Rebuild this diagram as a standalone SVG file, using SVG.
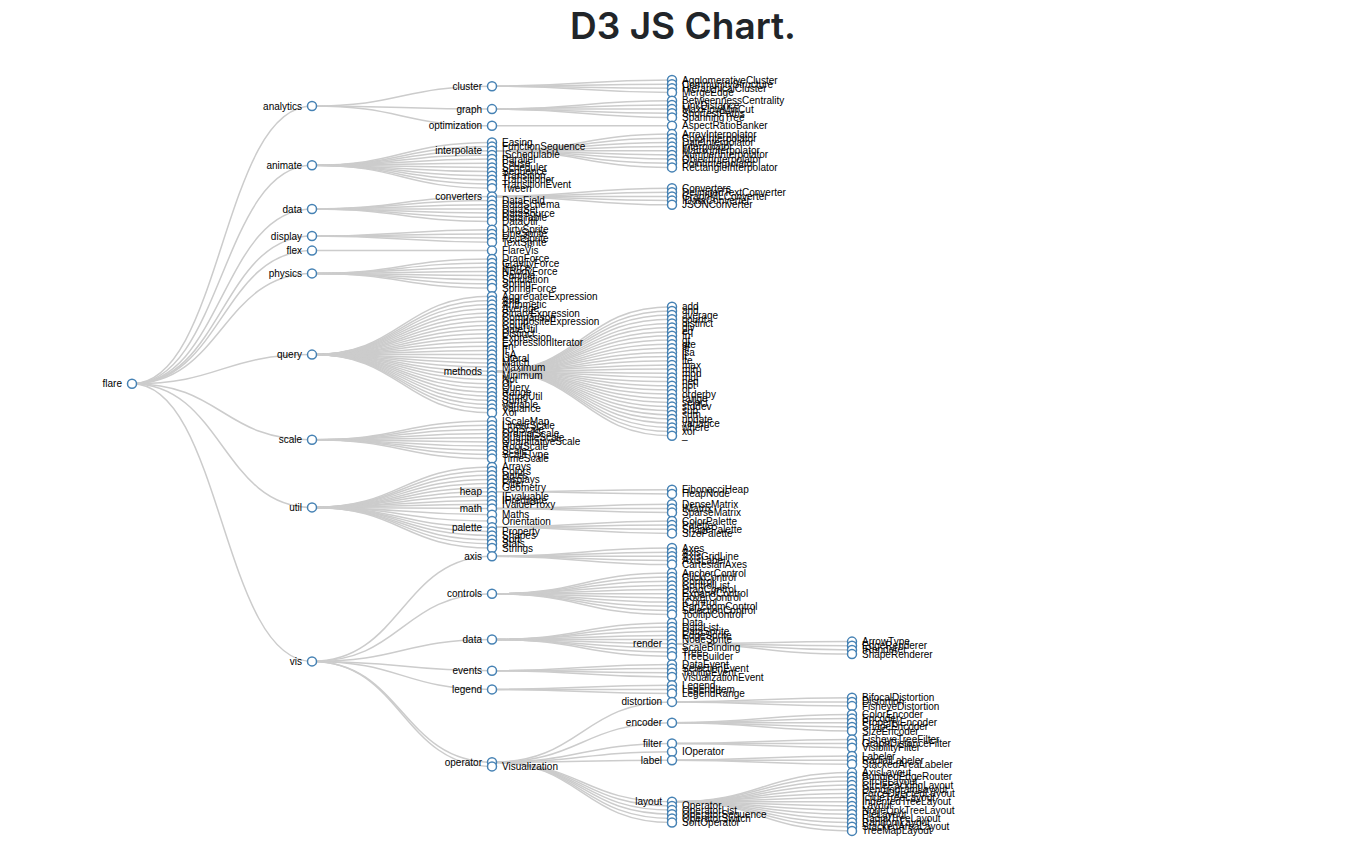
<svg xmlns="http://www.w3.org/2000/svg" width="1366" height="856" viewBox="0 0 1366 856">
<style>
.links path{fill:none;stroke:#ccc;stroke-width:1.5}
.node circle{fill:#fff;stroke:#4682b4;stroke-width:1.5}
.node text{font-family:"Liberation Sans",Arial,sans-serif;font-size:10px;fill:#000;dominant-baseline:central}
.node.p text{text-anchor:end}
.title{font-family:Inter,"Liberation Sans",Arial,sans-serif;font-weight:600;font-size:37px;fill:#212529;text-anchor:middle}
</style>
<rect width="1366" height="856" fill="#fff"/>
<text class="title" x="683" y="39">D3 JS Chart.</text>
<g id="connectors" class="links">
<path d="M132,383.7C222,383.7 222,106 312,106"/>
<path d="M132,383.7C222,383.7 222,165.3 312,165.3"/>
<path d="M132,383.7C222,383.7 222,209 312,209"/>
<path d="M132,383.7C222,383.7 222,236 312,236"/>
<path d="M132,383.7C222,383.7 222,250.6 312,250.6"/>
<path d="M132,383.7C222,383.7 222,273.4 312,273.4"/>
<path d="M132,383.7C222,383.7 222,354.6 312,354.6"/>
<path d="M132,383.7C222,383.7 222,439.8 312,439.8"/>
<path d="M132,383.7C222,383.7 222,507.4 312,507.4"/>
<path d="M132,383.7C222,383.7 222,661.4 312,661.4"/>
<path d="M312,106C402,106 402,86.2 492,86.2"/>
<path d="M312,106C402,106 402,109.1 492,109.1"/>
<path d="M312,106C402,106 402,125.8 492,125.8"/>
<path d="M312,165.3C402,165.3 402,142.4 492,142.4"/>
<path d="M312,165.3C402,165.3 402,146.6 492,146.6"/>
<path d="M312,165.3C402,165.3 402,150.7 492,150.7"/>
<path d="M312,165.3C402,165.3 402,154.9 492,154.9"/>
<path d="M312,165.3C402,165.3 402,159 492,159"/>
<path d="M312,165.3C402,165.3 402,163.2 492,163.2"/>
<path d="M312,165.3C402,165.3 402,167.4 492,167.4"/>
<path d="M312,165.3C402,165.3 402,171.5 492,171.5"/>
<path d="M312,165.3C402,165.3 402,175.7 492,175.7"/>
<path d="M312,165.3C402,165.3 402,179.8 492,179.8"/>
<path d="M312,165.3C402,165.3 402,184 492,184"/>
<path d="M312,165.3C402,165.3 402,188.2 492,188.2"/>
<path d="M312,209C402,209 402,196.5 492,196.5"/>
<path d="M312,209C402,209 402,200.6 492,200.6"/>
<path d="M312,209C402,209 402,204.8 492,204.8"/>
<path d="M312,209C402,209 402,209 492,209"/>
<path d="M312,209C402,209 402,213.1 492,213.1"/>
<path d="M312,209C402,209 402,217.3 492,217.3"/>
<path d="M312,209C402,209 402,221.4 492,221.4"/>
<path d="M312,236C402,236 402,229.8 492,229.8"/>
<path d="M312,236C402,236 402,233.9 492,233.9"/>
<path d="M312,236C402,236 402,238.1 492,238.1"/>
<path d="M312,236C402,236 402,242.2 492,242.2"/>
<path d="M312,250.6C402,250.6 402,250.6 492,250.6"/>
<path d="M312,273.4C402,273.4 402,258.9 492,258.9"/>
<path d="M312,273.4C402,273.4 402,263 492,263"/>
<path d="M312,273.4C402,273.4 402,267.2 492,267.2"/>
<path d="M312,273.4C402,273.4 402,271.4 492,271.4"/>
<path d="M312,273.4C402,273.4 402,275.5 492,275.5"/>
<path d="M312,273.4C402,273.4 402,279.7 492,279.7"/>
<path d="M312,273.4C402,273.4 402,283.8 492,283.8"/>
<path d="M312,273.4C402,273.4 402,288 492,288"/>
<path d="M312,354.6C402,354.6 402,296.3 492,296.3"/>
<path d="M312,354.6C402,354.6 402,300.5 492,300.5"/>
<path d="M312,354.6C402,354.6 402,304.6 492,304.6"/>
<path d="M312,354.6C402,354.6 402,308.8 492,308.8"/>
<path d="M312,354.6C402,354.6 402,313 492,313"/>
<path d="M312,354.6C402,354.6 402,317.1 492,317.1"/>
<path d="M312,354.6C402,354.6 402,321.3 492,321.3"/>
<path d="M312,354.6C402,354.6 402,325.4 492,325.4"/>
<path d="M312,354.6C402,354.6 402,329.6 492,329.6"/>
<path d="M312,354.6C402,354.6 402,333.8 492,333.8"/>
<path d="M312,354.6C402,354.6 402,337.9 492,337.9"/>
<path d="M312,354.6C402,354.6 402,342.1 492,342.1"/>
<path d="M312,354.6C402,354.6 402,346.2 492,346.2"/>
<path d="M312,354.6C402,354.6 402,350.4 492,350.4"/>
<path d="M312,354.6C402,354.6 402,354.6 492,354.6"/>
<path d="M312,354.6C402,354.6 402,358.7 492,358.7"/>
<path d="M312,354.6C402,354.6 402,362.9 492,362.9"/>
<path d="M312,354.6C402,354.6 402,367 492,367"/>
<path d="M312,354.6C402,354.6 402,371.2 492,371.2"/>
<path d="M312,354.6C402,354.6 402,375.4 492,375.4"/>
<path d="M312,354.6C402,354.6 402,379.5 492,379.5"/>
<path d="M312,354.6C402,354.6 402,383.7 492,383.7"/>
<path d="M312,354.6C402,354.6 402,387.8 492,387.8"/>
<path d="M312,354.6C402,354.6 402,392 492,392"/>
<path d="M312,354.6C402,354.6 402,396.2 492,396.2"/>
<path d="M312,354.6C402,354.6 402,400.3 492,400.3"/>
<path d="M312,354.6C402,354.6 402,404.5 492,404.5"/>
<path d="M312,354.6C402,354.6 402,408.6 492,408.6"/>
<path d="M312,354.6C402,354.6 402,412.8 492,412.8"/>
<path d="M312,439.8C402,439.8 402,421.1 492,421.1"/>
<path d="M312,439.8C402,439.8 402,425.3 492,425.3"/>
<path d="M312,439.8C402,439.8 402,429.4 492,429.4"/>
<path d="M312,439.8C402,439.8 402,433.6 492,433.6"/>
<path d="M312,439.8C402,439.8 402,437.8 492,437.8"/>
<path d="M312,439.8C402,439.8 402,441.9 492,441.9"/>
<path d="M312,439.8C402,439.8 402,446.1 492,446.1"/>
<path d="M312,439.8C402,439.8 402,450.2 492,450.2"/>
<path d="M312,439.8C402,439.8 402,454.4 492,454.4"/>
<path d="M312,439.8C402,439.8 402,458.6 492,458.6"/>
<path d="M312,507.4C402,507.4 402,466.9 492,466.9"/>
<path d="M312,507.4C402,507.4 402,471 492,471"/>
<path d="M312,507.4C402,507.4 402,475.2 492,475.2"/>
<path d="M312,507.4C402,507.4 402,479.4 492,479.4"/>
<path d="M312,507.4C402,507.4 402,483.5 492,483.5"/>
<path d="M312,507.4C402,507.4 402,487.7 492,487.7"/>
<path d="M312,507.4C402,507.4 402,491.8 492,491.8"/>
<path d="M312,507.4C402,507.4 402,496 492,496"/>
<path d="M312,507.4C402,507.4 402,500.2 492,500.2"/>
<path d="M312,507.4C402,507.4 402,504.3 492,504.3"/>
<path d="M312,507.4C402,507.4 402,508.5 492,508.5"/>
<path d="M312,507.4C402,507.4 402,514.7 492,514.7"/>
<path d="M312,507.4C402,507.4 402,521 492,521"/>
<path d="M312,507.4C402,507.4 402,527.2 492,527.2"/>
<path d="M312,507.4C402,507.4 402,531.4 492,531.4"/>
<path d="M312,507.4C402,507.4 402,535.5 492,535.5"/>
<path d="M312,507.4C402,507.4 402,539.7 492,539.7"/>
<path d="M312,507.4C402,507.4 402,543.8 492,543.8"/>
<path d="M312,507.4C402,507.4 402,548 492,548"/>
<path d="M312,661.4C402,661.4 402,556.3 492,556.3"/>
<path d="M312,661.4C402,661.4 402,593.8 492,593.8"/>
<path d="M312,661.4C402,661.4 402,639.5 492,639.5"/>
<path d="M312,661.4C402,661.4 402,670.7 492,670.7"/>
<path d="M312,661.4C402,661.4 402,689.4 492,689.4"/>
<path d="M312,661.4C402,661.4 402,762.2 492,762.2"/>
<path d="M312,661.4C402,661.4 402,766.4 492,766.4"/>
<path d="M492,86.2C582,86.2 582,80 672,80"/>
<path d="M492,86.2C582,86.2 582,84.2 672,84.2"/>
<path d="M492,86.2C582,86.2 582,88.3 672,88.3"/>
<path d="M492,86.2C582,86.2 582,92.5 672,92.5"/>
<path d="M492,109.1C582,109.1 582,100.8 672,100.8"/>
<path d="M492,109.1C582,109.1 582,105 672,105"/>
<path d="M492,109.1C582,109.1 582,109.1 672,109.1"/>
<path d="M492,109.1C582,109.1 582,113.3 672,113.3"/>
<path d="M492,109.1C582,109.1 582,117.4 672,117.4"/>
<path d="M492,125.8C582,125.8 582,125.8 672,125.8"/>
<path d="M492,150.7C582,150.7 582,134.1 672,134.1"/>
<path d="M492,150.7C582,150.7 582,138.2 672,138.2"/>
<path d="M492,150.7C582,150.7 582,142.4 672,142.4"/>
<path d="M492,150.7C582,150.7 582,146.6 672,146.6"/>
<path d="M492,150.7C582,150.7 582,150.7 672,150.7"/>
<path d="M492,150.7C582,150.7 582,154.9 672,154.9"/>
<path d="M492,150.7C582,150.7 582,159 672,159"/>
<path d="M492,150.7C582,150.7 582,163.2 672,163.2"/>
<path d="M492,150.7C582,150.7 582,167.4 672,167.4"/>
<path d="M492,196.5C582,196.5 582,188.2 672,188.2"/>
<path d="M492,196.5C582,196.5 582,192.3 672,192.3"/>
<path d="M492,196.5C582,196.5 582,196.5 672,196.5"/>
<path d="M492,196.5C582,196.5 582,200.6 672,200.6"/>
<path d="M492,196.5C582,196.5 582,204.8 672,204.8"/>
<path d="M492,371.2C582,371.2 582,306.7 672,306.7"/>
<path d="M492,371.2C582,371.2 582,310.9 672,310.9"/>
<path d="M492,371.2C582,371.2 582,315 672,315"/>
<path d="M492,371.2C582,371.2 582,319.2 672,319.2"/>
<path d="M492,371.2C582,371.2 582,323.4 672,323.4"/>
<path d="M492,371.2C582,371.2 582,327.5 672,327.5"/>
<path d="M492,371.2C582,371.2 582,331.7 672,331.7"/>
<path d="M492,371.2C582,371.2 582,335.8 672,335.8"/>
<path d="M492,371.2C582,371.2 582,340 672,340"/>
<path d="M492,371.2C582,371.2 582,344.2 672,344.2"/>
<path d="M492,371.2C582,371.2 582,348.3 672,348.3"/>
<path d="M492,371.2C582,371.2 582,352.5 672,352.5"/>
<path d="M492,371.2C582,371.2 582,356.6 672,356.6"/>
<path d="M492,371.2C582,371.2 582,360.8 672,360.8"/>
<path d="M492,371.2C582,371.2 582,365 672,365"/>
<path d="M492,371.2C582,371.2 582,369.1 672,369.1"/>
<path d="M492,371.2C582,371.2 582,373.3 672,373.3"/>
<path d="M492,371.2C582,371.2 582,377.4 672,377.4"/>
<path d="M492,371.2C582,371.2 582,381.6 672,381.6"/>
<path d="M492,371.2C582,371.2 582,385.8 672,385.8"/>
<path d="M492,371.2C582,371.2 582,389.9 672,389.9"/>
<path d="M492,371.2C582,371.2 582,394.1 672,394.1"/>
<path d="M492,371.2C582,371.2 582,398.2 672,398.2"/>
<path d="M492,371.2C582,371.2 582,402.4 672,402.4"/>
<path d="M492,371.2C582,371.2 582,406.6 672,406.6"/>
<path d="M492,371.2C582,371.2 582,410.7 672,410.7"/>
<path d="M492,371.2C582,371.2 582,414.9 672,414.9"/>
<path d="M492,371.2C582,371.2 582,419 672,419"/>
<path d="M492,371.2C582,371.2 582,423.2 672,423.2"/>
<path d="M492,371.2C582,371.2 582,427.4 672,427.4"/>
<path d="M492,371.2C582,371.2 582,431.5 672,431.5"/>
<path d="M492,371.2C582,371.2 582,435.7 672,435.7"/>
<path d="M492,491.8C582,491.8 582,489.8 672,489.8"/>
<path d="M492,491.8C582,491.8 582,493.9 672,493.9"/>
<path d="M492,508.5C582,508.5 582,504.3 672,504.3"/>
<path d="M492,508.5C582,508.5 582,508.5 672,508.5"/>
<path d="M492,508.5C582,508.5 582,512.6 672,512.6"/>
<path d="M492,527.2C582,527.2 582,521 672,521"/>
<path d="M492,527.2C582,527.2 582,525.1 672,525.1"/>
<path d="M492,527.2C582,527.2 582,529.3 672,529.3"/>
<path d="M492,527.2C582,527.2 582,533.4 672,533.4"/>
<path d="M492,556.3C582,556.3 582,548 672,548"/>
<path d="M492,556.3C582,556.3 582,552.2 672,552.2"/>
<path d="M492,556.3C582,556.3 582,556.3 672,556.3"/>
<path d="M492,556.3C582,556.3 582,560.5 672,560.5"/>
<path d="M492,556.3C582,556.3 582,564.6 672,564.6"/>
<path d="M492,593.8C582,593.8 582,573 672,573"/>
<path d="M492,593.8C582,593.8 582,577.1 672,577.1"/>
<path d="M492,593.8C582,593.8 582,581.3 672,581.3"/>
<path d="M492,593.8C582,593.8 582,585.4 672,585.4"/>
<path d="M492,593.8C582,593.8 582,589.6 672,589.6"/>
<path d="M492,593.8C582,593.8 582,593.8 672,593.8"/>
<path d="M492,593.8C582,593.8 582,597.9 672,597.9"/>
<path d="M492,593.8C582,593.8 582,602.1 672,602.1"/>
<path d="M492,593.8C582,593.8 582,606.2 672,606.2"/>
<path d="M492,593.8C582,593.8 582,610.4 672,610.4"/>
<path d="M492,593.8C582,593.8 582,614.6 672,614.6"/>
<path d="M492,639.5C582,639.5 582,622.9 672,622.9"/>
<path d="M492,639.5C582,639.5 582,627 672,627"/>
<path d="M492,639.5C582,639.5 582,631.2 672,631.2"/>
<path d="M492,639.5C582,639.5 582,635.4 672,635.4"/>
<path d="M492,639.5C582,639.5 582,639.5 672,639.5"/>
<path d="M492,639.5C582,639.5 582,643.7 672,643.7"/>
<path d="M492,639.5C582,639.5 582,647.8 672,647.8"/>
<path d="M492,639.5C582,639.5 582,652 672,652"/>
<path d="M492,639.5C582,639.5 582,656.2 672,656.2"/>
<path d="M492,670.7C582,670.7 582,664.5 672,664.5"/>
<path d="M492,670.7C582,670.7 582,668.6 672,668.6"/>
<path d="M492,670.7C582,670.7 582,672.8 672,672.8"/>
<path d="M492,670.7C582,670.7 582,677 672,677"/>
<path d="M492,689.4C582,689.4 582,685.3 672,685.3"/>
<path d="M492,689.4C582,689.4 582,689.4 672,689.4"/>
<path d="M492,689.4C582,689.4 582,693.6 672,693.6"/>
<path d="M492,762.2C582,762.2 582,701.9 672,701.9"/>
<path d="M492,762.2C582,762.2 582,722.7 672,722.7"/>
<path d="M492,762.2C582,762.2 582,743.5 672,743.5"/>
<path d="M492,762.2C582,762.2 582,751.8 672,751.8"/>
<path d="M492,762.2C582,762.2 582,760.2 672,760.2"/>
<path d="M492,762.2C582,762.2 582,801.8 672,801.8"/>
<path d="M492,762.2C582,762.2 582,805.9 672,805.9"/>
<path d="M492,762.2C582,762.2 582,810.1 672,810.1"/>
<path d="M492,762.2C582,762.2 582,814.2 672,814.2"/>
<path d="M492,762.2C582,762.2 582,818.4 672,818.4"/>
<path d="M492,762.2C582,762.2 582,822.6 672,822.6"/>
<path d="M672,643.7C762,643.7 762,641.6 852,641.6"/>
<path d="M672,643.7C762,643.7 762,645.8 852,645.8"/>
<path d="M672,643.7C762,643.7 762,649.9 852,649.9"/>
<path d="M672,643.7C762,643.7 762,654.1 852,654.1"/>
<path d="M672,701.9C762,701.9 762,697.8 852,697.8"/>
<path d="M672,701.9C762,701.9 762,701.9 852,701.9"/>
<path d="M672,701.9C762,701.9 762,706.1 852,706.1"/>
<path d="M672,722.7C762,722.7 762,714.4 852,714.4"/>
<path d="M672,722.7C762,722.7 762,718.6 852,718.6"/>
<path d="M672,722.7C762,722.7 762,722.7 852,722.7"/>
<path d="M672,722.7C762,722.7 762,726.9 852,726.9"/>
<path d="M672,722.7C762,722.7 762,731 852,731"/>
<path d="M672,743.5C762,743.5 762,739.4 852,739.4"/>
<path d="M672,743.5C762,743.5 762,743.5 852,743.5"/>
<path d="M672,743.5C762,743.5 762,747.7 852,747.7"/>
<path d="M672,760.2C762,760.2 762,756 852,756"/>
<path d="M672,760.2C762,760.2 762,760.2 852,760.2"/>
<path d="M672,760.2C762,760.2 762,764.3 852,764.3"/>
<path d="M672,801.8C762,801.8 762,772.6 852,772.6"/>
<path d="M672,801.8C762,801.8 762,776.8 852,776.8"/>
<path d="M672,801.8C762,801.8 762,781 852,781"/>
<path d="M672,801.8C762,801.8 762,785.1 852,785.1"/>
<path d="M672,801.8C762,801.8 762,789.3 852,789.3"/>
<path d="M672,801.8C762,801.8 762,793.4 852,793.4"/>
<path d="M672,801.8C762,801.8 762,797.6 852,797.6"/>
<path d="M672,801.8C762,801.8 762,801.8 852,801.8"/>
<path d="M672,801.8C762,801.8 762,805.9 852,805.9"/>
<path d="M672,801.8C762,801.8 762,810.1 852,810.1"/>
<path d="M672,801.8C762,801.8 762,814.2 852,814.2"/>
<path d="M672,801.8C762,801.8 762,818.4 852,818.4"/>
<path d="M672,801.8C762,801.8 762,822.6 852,822.6"/>
<path d="M672,801.8C762,801.8 762,826.7 852,826.7"/>
<path d="M672,801.8C762,801.8 762,830.9 852,830.9"/>
</g>
<g id="nodes">
<g id="n-flare" class="node p" transform="translate(132,383.7)"><circle r="4.5"/><text x="-10">flare</text></g>
<g id="n-analytics" class="node p" transform="translate(312,106)"><circle r="4.5"/><text x="-10">analytics</text></g>
<g id="n-animate" class="node p" transform="translate(312,165.3)"><circle r="4.5"/><text x="-10">animate</text></g>
<g id="n-data" class="node p" transform="translate(312,209)"><circle r="4.5"/><text x="-10">data</text></g>
<g id="n-display" class="node p" transform="translate(312,236)"><circle r="4.5"/><text x="-10">display</text></g>
<g id="n-flex" class="node p" transform="translate(312,250.6)"><circle r="4.5"/><text x="-10">flex</text></g>
<g id="n-physics" class="node p" transform="translate(312,273.4)"><circle r="4.5"/><text x="-10">physics</text></g>
<g id="n-query" class="node p" transform="translate(312,354.6)"><circle r="4.5"/><text x="-10">query</text></g>
<g id="n-scale" class="node p" transform="translate(312,439.8)"><circle r="4.5"/><text x="-10">scale</text></g>
<g id="n-util" class="node p" transform="translate(312,507.4)"><circle r="4.5"/><text x="-10">util</text></g>
<g id="n-vis" class="node p" transform="translate(312,661.4)"><circle r="4.5"/><text x="-10">vis</text></g>
<g id="n-cluster" class="node p" transform="translate(492,86.2)"><circle r="4.5"/><text x="-10">cluster</text></g>
<g id="n-graph" class="node p" transform="translate(492,109.1)"><circle r="4.5"/><text x="-10">graph</text></g>
<g id="n-optimization" class="node p" transform="translate(492,125.8)"><circle r="4.5"/><text x="-10">optimization</text></g>
<g id="n-Easing" class="node" transform="translate(492,142.4)"><circle r="4.5"/><text x="10">Easing</text></g>
<g id="n-FunctionSequence" class="node" transform="translate(492,146.6)"><circle r="4.5"/><text x="10">FunctionSequence</text></g>
<g id="n-interpolate" class="node p" transform="translate(492,150.7)"><circle r="4.5"/><text x="-10">interpolate</text></g>
<g id="n-ISchedulable" class="node" transform="translate(492,154.9)"><circle r="4.5"/><text x="10">ISchedulable</text></g>
<g id="n-Parallel" class="node" transform="translate(492,159)"><circle r="4.5"/><text x="10">Parallel</text></g>
<g id="n-Pause" class="node" transform="translate(492,163.2)"><circle r="4.5"/><text x="10">Pause</text></g>
<g id="n-Scheduler" class="node" transform="translate(492,167.4)"><circle r="4.5"/><text x="10">Scheduler</text></g>
<g id="n-Sequence" class="node" transform="translate(492,171.5)"><circle r="4.5"/><text x="10">Sequence</text></g>
<g id="n-Transition" class="node" transform="translate(492,175.7)"><circle r="4.5"/><text x="10">Transition</text></g>
<g id="n-Transitioner" class="node" transform="translate(492,179.8)"><circle r="4.5"/><text x="10">Transitioner</text></g>
<g id="n-TransitionEvent" class="node" transform="translate(492,184)"><circle r="4.5"/><text x="10">TransitionEvent</text></g>
<g id="n-Tween" class="node" transform="translate(492,188.2)"><circle r="4.5"/><text x="10">Tween</text></g>
<g id="n-converters" class="node p" transform="translate(492,196.5)"><circle r="4.5"/><text x="-10">converters</text></g>
<g id="n-DataField" class="node" transform="translate(492,200.6)"><circle r="4.5"/><text x="10">DataField</text></g>
<g id="n-DataSchema" class="node" transform="translate(492,204.8)"><circle r="4.5"/><text x="10">DataSchema</text></g>
<g id="n-DataSet" class="node" transform="translate(492,209)"><circle r="4.5"/><text x="10">DataSet</text></g>
<g id="n-DataSource" class="node" transform="translate(492,213.1)"><circle r="4.5"/><text x="10">DataSource</text></g>
<g id="n-DataTable" class="node" transform="translate(492,217.3)"><circle r="4.5"/><text x="10">DataTable</text></g>
<g id="n-DataUtil" class="node" transform="translate(492,221.4)"><circle r="4.5"/><text x="10">DataUtil</text></g>
<g id="n-DirtySprite" class="node" transform="translate(492,229.8)"><circle r="4.5"/><text x="10">DirtySprite</text></g>
<g id="n-LineSprite" class="node" transform="translate(492,233.9)"><circle r="4.5"/><text x="10">LineSprite</text></g>
<g id="n-RectSprite" class="node" transform="translate(492,238.1)"><circle r="4.5"/><text x="10">RectSprite</text></g>
<g id="n-TextSprite" class="node" transform="translate(492,242.2)"><circle r="4.5"/><text x="10">TextSprite</text></g>
<g id="n-FlareVis" class="node" transform="translate(492,250.6)"><circle r="4.5"/><text x="10">FlareVis</text></g>
<g id="n-DragForce" class="node" transform="translate(492,258.9)"><circle r="4.5"/><text x="10">DragForce</text></g>
<g id="n-GravityForce" class="node" transform="translate(492,263)"><circle r="4.5"/><text x="10">GravityForce</text></g>
<g id="n-IForce" class="node" transform="translate(492,267.2)"><circle r="4.5"/><text x="10">IForce</text></g>
<g id="n-NBodyForce" class="node" transform="translate(492,271.4)"><circle r="4.5"/><text x="10">NBodyForce</text></g>
<g id="n-Particle" class="node" transform="translate(492,275.5)"><circle r="4.5"/><text x="10">Particle</text></g>
<g id="n-Simulation" class="node" transform="translate(492,279.7)"><circle r="4.5"/><text x="10">Simulation</text></g>
<g id="n-Spring" class="node" transform="translate(492,283.8)"><circle r="4.5"/><text x="10">Spring</text></g>
<g id="n-SpringForce" class="node" transform="translate(492,288)"><circle r="4.5"/><text x="10">SpringForce</text></g>
<g id="n-AggregateExpression" class="node" transform="translate(492,296.3)"><circle r="4.5"/><text x="10">AggregateExpression</text></g>
<g id="n-And" class="node" transform="translate(492,300.5)"><circle r="4.5"/><text x="10">And</text></g>
<g id="n-Arithmetic" class="node" transform="translate(492,304.6)"><circle r="4.5"/><text x="10">Arithmetic</text></g>
<g id="n-Average" class="node" transform="translate(492,308.8)"><circle r="4.5"/><text x="10">Average</text></g>
<g id="n-BinaryExpression" class="node" transform="translate(492,313)"><circle r="4.5"/><text x="10">BinaryExpression</text></g>
<g id="n-Comparison" class="node" transform="translate(492,317.1)"><circle r="4.5"/><text x="10">Comparison</text></g>
<g id="n-CompositeExpression" class="node" transform="translate(492,321.3)"><circle r="4.5"/><text x="10">CompositeExpression</text></g>
<g id="n-Count" class="node" transform="translate(492,325.4)"><circle r="4.5"/><text x="10">Count</text></g>
<g id="n-DateUtil" class="node" transform="translate(492,329.6)"><circle r="4.5"/><text x="10">DateUtil</text></g>
<g id="n-Distinct" class="node" transform="translate(492,333.8)"><circle r="4.5"/><text x="10">Distinct</text></g>
<g id="n-Expression" class="node" transform="translate(492,337.9)"><circle r="4.5"/><text x="10">Expression</text></g>
<g id="n-ExpressionIterator" class="node" transform="translate(492,342.1)"><circle r="4.5"/><text x="10">ExpressionIterator</text></g>
<g id="n-Fn" class="node" transform="translate(492,346.2)"><circle r="4.5"/><text x="10">Fn</text></g>
<g id="n-If" class="node" transform="translate(492,350.4)"><circle r="4.5"/><text x="10">If</text></g>
<g id="n-IsA" class="node" transform="translate(492,354.6)"><circle r="4.5"/><text x="10">IsA</text></g>
<g id="n-Literal" class="node" transform="translate(492,358.7)"><circle r="4.5"/><text x="10">Literal</text></g>
<g id="n-Match" class="node" transform="translate(492,362.9)"><circle r="4.5"/><text x="10">Match</text></g>
<g id="n-Maximum" class="node" transform="translate(492,367)"><circle r="4.5"/><text x="10">Maximum</text></g>
<g id="n-methods" class="node p" transform="translate(492,371.2)"><circle r="4.5"/><text x="-10">methods</text></g>
<g id="n-Minimum" class="node" transform="translate(492,375.4)"><circle r="4.5"/><text x="10">Minimum</text></g>
<g id="n-Not" class="node" transform="translate(492,379.5)"><circle r="4.5"/><text x="10">Not</text></g>
<g id="n-Or" class="node" transform="translate(492,383.7)"><circle r="4.5"/><text x="10">Or</text></g>
<g id="n-Query" class="node" transform="translate(492,387.8)"><circle r="4.5"/><text x="10">Query</text></g>
<g id="n-Range" class="node" transform="translate(492,392)"><circle r="4.5"/><text x="10">Range</text></g>
<g id="n-StringUtil" class="node" transform="translate(492,396.2)"><circle r="4.5"/><text x="10">StringUtil</text></g>
<g id="n-Sum" class="node" transform="translate(492,400.3)"><circle r="4.5"/><text x="10">Sum</text></g>
<g id="n-Variable" class="node" transform="translate(492,404.5)"><circle r="4.5"/><text x="10">Variable</text></g>
<g id="n-Variance" class="node" transform="translate(492,408.6)"><circle r="4.5"/><text x="10">Variance</text></g>
<g id="n-Xor" class="node" transform="translate(492,412.8)"><circle r="4.5"/><text x="10">Xor</text></g>
<g id="n-IScaleMap" class="node" transform="translate(492,421.1)"><circle r="4.5"/><text x="10">IScaleMap</text></g>
<g id="n-LinearScale" class="node" transform="translate(492,425.3)"><circle r="4.5"/><text x="10">LinearScale</text></g>
<g id="n-LogScale" class="node" transform="translate(492,429.4)"><circle r="4.5"/><text x="10">LogScale</text></g>
<g id="n-OrdinalScale" class="node" transform="translate(492,433.6)"><circle r="4.5"/><text x="10">OrdinalScale</text></g>
<g id="n-QuantileScale" class="node" transform="translate(492,437.8)"><circle r="4.5"/><text x="10">QuantileScale</text></g>
<g id="n-QuantitativeScale" class="node" transform="translate(492,441.9)"><circle r="4.5"/><text x="10">QuantitativeScale</text></g>
<g id="n-RootScale" class="node" transform="translate(492,446.1)"><circle r="4.5"/><text x="10">RootScale</text></g>
<g id="n-Scale" class="node" transform="translate(492,450.2)"><circle r="4.5"/><text x="10">Scale</text></g>
<g id="n-ScaleType" class="node" transform="translate(492,454.4)"><circle r="4.5"/><text x="10">ScaleType</text></g>
<g id="n-TimeScale" class="node" transform="translate(492,458.6)"><circle r="4.5"/><text x="10">TimeScale</text></g>
<g id="n-Arrays" class="node" transform="translate(492,466.9)"><circle r="4.5"/><text x="10">Arrays</text></g>
<g id="n-Colors" class="node" transform="translate(492,471)"><circle r="4.5"/><text x="10">Colors</text></g>
<g id="n-Dates" class="node" transform="translate(492,475.2)"><circle r="4.5"/><text x="10">Dates</text></g>
<g id="n-Displays" class="node" transform="translate(492,479.4)"><circle r="4.5"/><text x="10">Displays</text></g>
<g id="n-Filter" class="node" transform="translate(492,483.5)"><circle r="4.5"/><text x="10">Filter</text></g>
<g id="n-Geometry" class="node" transform="translate(492,487.7)"><circle r="4.5"/><text x="10">Geometry</text></g>
<g id="n-heap" class="node p" transform="translate(492,491.8)"><circle r="4.5"/><text x="-10">heap</text></g>
<g id="n-IEvaluable" class="node" transform="translate(492,496)"><circle r="4.5"/><text x="10">IEvaluable</text></g>
<g id="n-IPredicate" class="node" transform="translate(492,500.2)"><circle r="4.5"/><text x="10">IPredicate</text></g>
<g id="n-IValueProxy" class="node" transform="translate(492,504.3)"><circle r="4.5"/><text x="10">IValueProxy</text></g>
<g id="n-math" class="node p" transform="translate(492,508.5)"><circle r="4.5"/><text x="-10">math</text></g>
<g id="n-Maths" class="node" transform="translate(492,514.7)"><circle r="4.5"/><text x="10">Maths</text></g>
<g id="n-Orientation" class="node" transform="translate(492,521)"><circle r="4.5"/><text x="10">Orientation</text></g>
<g id="n-palette" class="node p" transform="translate(492,527.2)"><circle r="4.5"/><text x="-10">palette</text></g>
<g id="n-Property" class="node" transform="translate(492,531.4)"><circle r="4.5"/><text x="10">Property</text></g>
<g id="n-Shapes" class="node" transform="translate(492,535.5)"><circle r="4.5"/><text x="10">Shapes</text></g>
<g id="n-Sort" class="node" transform="translate(492,539.7)"><circle r="4.5"/><text x="10">Sort</text></g>
<g id="n-Stats" class="node" transform="translate(492,543.8)"><circle r="4.5"/><text x="10">Stats</text></g>
<g id="n-Strings" class="node" transform="translate(492,548)"><circle r="4.5"/><text x="10">Strings</text></g>
<g id="n-axis" class="node p" transform="translate(492,556.3)"><circle r="4.5"/><text x="-10">axis</text></g>
<g id="n-controls" class="node p" transform="translate(492,593.8)"><circle r="4.5"/><text x="-10">controls</text></g>
<g id="n-vis-data" class="node p" transform="translate(492,639.5)"><circle r="4.5"/><text x="-10">data</text></g>
<g id="n-events" class="node p" transform="translate(492,670.7)"><circle r="4.5"/><text x="-10">events</text></g>
<g id="n-legend" class="node p" transform="translate(492,689.4)"><circle r="4.5"/><text x="-10">legend</text></g>
<g id="n-operator" class="node p" transform="translate(492,762.2)"><circle r="4.5"/><text x="-10">operator</text></g>
<g id="n-Visualization" class="node" transform="translate(492,766.4)"><circle r="4.5"/><text x="10">Visualization</text></g>
<g id="n-AgglomerativeCluster" class="node" transform="translate(672,80)"><circle r="4.5"/><text x="10">AgglomerativeCluster</text></g>
<g id="n-CommunityStructure" class="node" transform="translate(672,84.2)"><circle r="4.5"/><text x="10">CommunityStructure</text></g>
<g id="n-HierarchicalCluster" class="node" transform="translate(672,88.3)"><circle r="4.5"/><text x="10">HierarchicalCluster</text></g>
<g id="n-MergeEdge" class="node" transform="translate(672,92.5)"><circle r="4.5"/><text x="10">MergeEdge</text></g>
<g id="n-BetweennessCentrality" class="node" transform="translate(672,100.8)"><circle r="4.5"/><text x="10">BetweennessCentrality</text></g>
<g id="n-LinkDistance" class="node" transform="translate(672,105)"><circle r="4.5"/><text x="10">LinkDistance</text></g>
<g id="n-MaxFlowMinCut" class="node" transform="translate(672,109.1)"><circle r="4.5"/><text x="10">MaxFlowMinCut</text></g>
<g id="n-ShortestPaths" class="node" transform="translate(672,113.3)"><circle r="4.5"/><text x="10">ShortestPaths</text></g>
<g id="n-SpanningTree" class="node" transform="translate(672,117.4)"><circle r="4.5"/><text x="10">SpanningTree</text></g>
<g id="n-AspectRatioBanker" class="node" transform="translate(672,125.8)"><circle r="4.5"/><text x="10">AspectRatioBanker</text></g>
<g id="n-ArrayInterpolator" class="node" transform="translate(672,134.1)"><circle r="4.5"/><text x="10">ArrayInterpolator</text></g>
<g id="n-ColorInterpolator" class="node" transform="translate(672,138.2)"><circle r="4.5"/><text x="10">ColorInterpolator</text></g>
<g id="n-DateInterpolator" class="node" transform="translate(672,142.4)"><circle r="4.5"/><text x="10">DateInterpolator</text></g>
<g id="n-Interpolator" class="node" transform="translate(672,146.6)"><circle r="4.5"/><text x="10">Interpolator</text></g>
<g id="n-MatrixInterpolator" class="node" transform="translate(672,150.7)"><circle r="4.5"/><text x="10">MatrixInterpolator</text></g>
<g id="n-NumberInterpolator" class="node" transform="translate(672,154.9)"><circle r="4.5"/><text x="10">NumberInterpolator</text></g>
<g id="n-ObjectInterpolator" class="node" transform="translate(672,159)"><circle r="4.5"/><text x="10">ObjectInterpolator</text></g>
<g id="n-PointInterpolator" class="node" transform="translate(672,163.2)"><circle r="4.5"/><text x="10">PointInterpolator</text></g>
<g id="n-RectangleInterpolator" class="node" transform="translate(672,167.4)"><circle r="4.5"/><text x="10">RectangleInterpolator</text></g>
<g id="n-Converters" class="node" transform="translate(672,188.2)"><circle r="4.5"/><text x="10">Converters</text></g>
<g id="n-DelimitedTextConverter" class="node" transform="translate(672,192.3)"><circle r="4.5"/><text x="10">DelimitedTextConverter</text></g>
<g id="n-GraphMLConverter" class="node" transform="translate(672,196.5)"><circle r="4.5"/><text x="10">GraphMLConverter</text></g>
<g id="n-IDataConverter" class="node" transform="translate(672,200.6)"><circle r="4.5"/><text x="10">IDataConverter</text></g>
<g id="n-JSONConverter" class="node" transform="translate(672,204.8)"><circle r="4.5"/><text x="10">JSONConverter</text></g>
<g id="n-m-add" class="node" transform="translate(672,306.7)"><circle r="4.5"/><text x="10">add</text></g>
<g id="n-m-and" class="node" transform="translate(672,310.9)"><circle r="4.5"/><text x="10">and</text></g>
<g id="n-m-average" class="node" transform="translate(672,315)"><circle r="4.5"/><text x="10">average</text></g>
<g id="n-m-count" class="node" transform="translate(672,319.2)"><circle r="4.5"/><text x="10">count</text></g>
<g id="n-m-distinct" class="node" transform="translate(672,323.4)"><circle r="4.5"/><text x="10">distinct</text></g>
<g id="n-m-div" class="node" transform="translate(672,327.5)"><circle r="4.5"/><text x="10">div</text></g>
<g id="n-m-eq" class="node" transform="translate(672,331.7)"><circle r="4.5"/><text x="10">eq</text></g>
<g id="n-m-fn" class="node" transform="translate(672,335.8)"><circle r="4.5"/><text x="10">fn</text></g>
<g id="n-m-gt" class="node" transform="translate(672,340)"><circle r="4.5"/><text x="10">gt</text></g>
<g id="n-m-gte" class="node" transform="translate(672,344.2)"><circle r="4.5"/><text x="10">gte</text></g>
<g id="n-m-iff" class="node" transform="translate(672,348.3)"><circle r="4.5"/><text x="10">iff</text></g>
<g id="n-m-isa" class="node" transform="translate(672,352.5)"><circle r="4.5"/><text x="10">isa</text></g>
<g id="n-m-lt" class="node" transform="translate(672,356.6)"><circle r="4.5"/><text x="10">lt</text></g>
<g id="n-m-lte" class="node" transform="translate(672,360.8)"><circle r="4.5"/><text x="10">lte</text></g>
<g id="n-m-max" class="node" transform="translate(672,365)"><circle r="4.5"/><text x="10">max</text></g>
<g id="n-m-min" class="node" transform="translate(672,369.1)"><circle r="4.5"/><text x="10">min</text></g>
<g id="n-m-mod" class="node" transform="translate(672,373.3)"><circle r="4.5"/><text x="10">mod</text></g>
<g id="n-m-mul" class="node" transform="translate(672,377.4)"><circle r="4.5"/><text x="10">mul</text></g>
<g id="n-m-neq" class="node" transform="translate(672,381.6)"><circle r="4.5"/><text x="10">neq</text></g>
<g id="n-m-not" class="node" transform="translate(672,385.8)"><circle r="4.5"/><text x="10">not</text></g>
<g id="n-m-or" class="node" transform="translate(672,389.9)"><circle r="4.5"/><text x="10">or</text></g>
<g id="n-m-orderby" class="node" transform="translate(672,394.1)"><circle r="4.5"/><text x="10">orderby</text></g>
<g id="n-m-range" class="node" transform="translate(672,398.2)"><circle r="4.5"/><text x="10">range</text></g>
<g id="n-m-select" class="node" transform="translate(672,402.4)"><circle r="4.5"/><text x="10">select</text></g>
<g id="n-m-stddev" class="node" transform="translate(672,406.6)"><circle r="4.5"/><text x="10">stddev</text></g>
<g id="n-m-sub" class="node" transform="translate(672,410.7)"><circle r="4.5"/><text x="10">sub</text></g>
<g id="n-m-sum" class="node" transform="translate(672,414.9)"><circle r="4.5"/><text x="10">sum</text></g>
<g id="n-m-update" class="node" transform="translate(672,419)"><circle r="4.5"/><text x="10">update</text></g>
<g id="n-m-variance" class="node" transform="translate(672,423.2)"><circle r="4.5"/><text x="10">variance</text></g>
<g id="n-m-where" class="node" transform="translate(672,427.4)"><circle r="4.5"/><text x="10">where</text></g>
<g id="n-m-xor" class="node" transform="translate(672,431.5)"><circle r="4.5"/><text x="10">xor</text></g>
<g id="n-m-_" class="node" transform="translate(672,435.7)"><circle r="4.5"/><text x="10">_</text></g>
<g id="n-FibonacciHeap" class="node" transform="translate(672,489.8)"><circle r="4.5"/><text x="10">FibonacciHeap</text></g>
<g id="n-HeapNode" class="node" transform="translate(672,493.9)"><circle r="4.5"/><text x="10">HeapNode</text></g>
<g id="n-DenseMatrix" class="node" transform="translate(672,504.3)"><circle r="4.5"/><text x="10">DenseMatrix</text></g>
<g id="n-IMatrix" class="node" transform="translate(672,508.5)"><circle r="4.5"/><text x="10">IMatrix</text></g>
<g id="n-SparseMatrix" class="node" transform="translate(672,512.6)"><circle r="4.5"/><text x="10">SparseMatrix</text></g>
<g id="n-ColorPalette" class="node" transform="translate(672,521)"><circle r="4.5"/><text x="10">ColorPalette</text></g>
<g id="n-Palette" class="node" transform="translate(672,525.1)"><circle r="4.5"/><text x="10">Palette</text></g>
<g id="n-ShapePalette" class="node" transform="translate(672,529.3)"><circle r="4.5"/><text x="10">ShapePalette</text></g>
<g id="n-SizePalette" class="node" transform="translate(672,533.4)"><circle r="4.5"/><text x="10">SizePalette</text></g>
<g id="n-Axes" class="node" transform="translate(672,548)"><circle r="4.5"/><text x="10">Axes</text></g>
<g id="n-Axis" class="node" transform="translate(672,552.2)"><circle r="4.5"/><text x="10">Axis</text></g>
<g id="n-AxisGridLine" class="node" transform="translate(672,556.3)"><circle r="4.5"/><text x="10">AxisGridLine</text></g>
<g id="n-AxisLabel" class="node" transform="translate(672,560.5)"><circle r="4.5"/><text x="10">AxisLabel</text></g>
<g id="n-CartesianAxes" class="node" transform="translate(672,564.6)"><circle r="4.5"/><text x="10">CartesianAxes</text></g>
<g id="n-AnchorControl" class="node" transform="translate(672,573)"><circle r="4.5"/><text x="10">AnchorControl</text></g>
<g id="n-ClickControl" class="node" transform="translate(672,577.1)"><circle r="4.5"/><text x="10">ClickControl</text></g>
<g id="n-Control" class="node" transform="translate(672,581.3)"><circle r="4.5"/><text x="10">Control</text></g>
<g id="n-ControlList" class="node" transform="translate(672,585.4)"><circle r="4.5"/><text x="10">ControlList</text></g>
<g id="n-DragControl" class="node" transform="translate(672,589.6)"><circle r="4.5"/><text x="10">DragControl</text></g>
<g id="n-ExpandControl" class="node" transform="translate(672,593.8)"><circle r="4.5"/><text x="10">ExpandControl</text></g>
<g id="n-HoverControl" class="node" transform="translate(672,597.9)"><circle r="4.5"/><text x="10">HoverControl</text></g>
<g id="n-IControl" class="node" transform="translate(672,602.1)"><circle r="4.5"/><text x="10">IControl</text></g>
<g id="n-PanZoomControl" class="node" transform="translate(672,606.2)"><circle r="4.5"/><text x="10">PanZoomControl</text></g>
<g id="n-SelectionControl" class="node" transform="translate(672,610.4)"><circle r="4.5"/><text x="10">SelectionControl</text></g>
<g id="n-TooltipControl" class="node" transform="translate(672,614.6)"><circle r="4.5"/><text x="10">TooltipControl</text></g>
<g id="n-Data" class="node" transform="translate(672,622.9)"><circle r="4.5"/><text x="10">Data</text></g>
<g id="n-DataList" class="node" transform="translate(672,627)"><circle r="4.5"/><text x="10">DataList</text></g>
<g id="n-DataSprite" class="node" transform="translate(672,631.2)"><circle r="4.5"/><text x="10">DataSprite</text></g>
<g id="n-EdgeSprite" class="node" transform="translate(672,635.4)"><circle r="4.5"/><text x="10">EdgeSprite</text></g>
<g id="n-NodeSprite" class="node" transform="translate(672,639.5)"><circle r="4.5"/><text x="10">NodeSprite</text></g>
<g id="n-render" class="node p" transform="translate(672,643.7)"><circle r="4.5"/><text x="-10">render</text></g>
<g id="n-ScaleBinding" class="node" transform="translate(672,647.8)"><circle r="4.5"/><text x="10">ScaleBinding</text></g>
<g id="n-Tree" class="node" transform="translate(672,652)"><circle r="4.5"/><text x="10">Tree</text></g>
<g id="n-TreeBuilder" class="node" transform="translate(672,656.2)"><circle r="4.5"/><text x="10">TreeBuilder</text></g>
<g id="n-DataEvent" class="node" transform="translate(672,664.5)"><circle r="4.5"/><text x="10">DataEvent</text></g>
<g id="n-SelectionEvent" class="node" transform="translate(672,668.6)"><circle r="4.5"/><text x="10">SelectionEvent</text></g>
<g id="n-TooltipEvent" class="node" transform="translate(672,672.8)"><circle r="4.5"/><text x="10">TooltipEvent</text></g>
<g id="n-VisualizationEvent" class="node" transform="translate(672,677)"><circle r="4.5"/><text x="10">VisualizationEvent</text></g>
<g id="n-Legend" class="node" transform="translate(672,685.3)"><circle r="4.5"/><text x="10">Legend</text></g>
<g id="n-LegendItem" class="node" transform="translate(672,689.4)"><circle r="4.5"/><text x="10">LegendItem</text></g>
<g id="n-LegendRange" class="node" transform="translate(672,693.6)"><circle r="4.5"/><text x="10">LegendRange</text></g>
<g id="n-distortion" class="node p" transform="translate(672,701.9)"><circle r="4.5"/><text x="-10">distortion</text></g>
<g id="n-encoder" class="node p" transform="translate(672,722.7)"><circle r="4.5"/><text x="-10">encoder</text></g>
<g id="n-op-filter" class="node p" transform="translate(672,743.5)"><circle r="4.5"/><text x="-10">filter</text></g>
<g id="n-IOperator" class="node" transform="translate(672,751.8)"><circle r="4.5"/><text x="10">IOperator</text></g>
<g id="n-label" class="node p" transform="translate(672,760.2)"><circle r="4.5"/><text x="-10">label</text></g>
<g id="n-op-layout" class="node p" transform="translate(672,801.8)"><circle r="4.5"/><text x="-10">layout</text></g>
<g id="n-Operator" class="node" transform="translate(672,805.9)"><circle r="4.5"/><text x="10">Operator</text></g>
<g id="n-OperatorList" class="node" transform="translate(672,810.1)"><circle r="4.5"/><text x="10">OperatorList</text></g>
<g id="n-OperatorSequence" class="node" transform="translate(672,814.2)"><circle r="4.5"/><text x="10">OperatorSequence</text></g>
<g id="n-OperatorSwitch" class="node" transform="translate(672,818.4)"><circle r="4.5"/><text x="10">OperatorSwitch</text></g>
<g id="n-SortOperator" class="node" transform="translate(672,822.6)"><circle r="4.5"/><text x="10">SortOperator</text></g>
<g id="n-ArrowType" class="node" transform="translate(852,641.6)"><circle r="4.5"/><text x="10">ArrowType</text></g>
<g id="n-EdgeRenderer" class="node" transform="translate(852,645.8)"><circle r="4.5"/><text x="10">EdgeRenderer</text></g>
<g id="n-IRenderer" class="node" transform="translate(852,649.9)"><circle r="4.5"/><text x="10">IRenderer</text></g>
<g id="n-ShapeRenderer" class="node" transform="translate(852,654.1)"><circle r="4.5"/><text x="10">ShapeRenderer</text></g>
<g id="n-BifocalDistortion" class="node" transform="translate(852,697.8)"><circle r="4.5"/><text x="10">BifocalDistortion</text></g>
<g id="n-Distortion" class="node" transform="translate(852,701.9)"><circle r="4.5"/><text x="10">Distortion</text></g>
<g id="n-FisheyeDistortion" class="node" transform="translate(852,706.1)"><circle r="4.5"/><text x="10">FisheyeDistortion</text></g>
<g id="n-ColorEncoder" class="node" transform="translate(852,714.4)"><circle r="4.5"/><text x="10">ColorEncoder</text></g>
<g id="n-Encoder" class="node" transform="translate(852,718.6)"><circle r="4.5"/><text x="10">Encoder</text></g>
<g id="n-PropertyEncoder" class="node" transform="translate(852,722.7)"><circle r="4.5"/><text x="10">PropertyEncoder</text></g>
<g id="n-ShapeEncoder" class="node" transform="translate(852,726.9)"><circle r="4.5"/><text x="10">ShapeEncoder</text></g>
<g id="n-SizeEncoder" class="node" transform="translate(852,731)"><circle r="4.5"/><text x="10">SizeEncoder</text></g>
<g id="n-FisheyeTreeFilter" class="node" transform="translate(852,739.4)"><circle r="4.5"/><text x="10">FisheyeTreeFilter</text></g>
<g id="n-GraphDistanceFilter" class="node" transform="translate(852,743.5)"><circle r="4.5"/><text x="10">GraphDistanceFilter</text></g>
<g id="n-VisibilityFilter" class="node" transform="translate(852,747.7)"><circle r="4.5"/><text x="10">VisibilityFilter</text></g>
<g id="n-Labeler" class="node" transform="translate(852,756)"><circle r="4.5"/><text x="10">Labeler</text></g>
<g id="n-RadialLabeler" class="node" transform="translate(852,760.2)"><circle r="4.5"/><text x="10">RadialLabeler</text></g>
<g id="n-StackedAreaLabeler" class="node" transform="translate(852,764.3)"><circle r="4.5"/><text x="10">StackedAreaLabeler</text></g>
<g id="n-AxisLayout" class="node" transform="translate(852,772.6)"><circle r="4.5"/><text x="10">AxisLayout</text></g>
<g id="n-BundledEdgeRouter" class="node" transform="translate(852,776.8)"><circle r="4.5"/><text x="10">BundledEdgeRouter</text></g>
<g id="n-CircleLayout" class="node" transform="translate(852,781)"><circle r="4.5"/><text x="10">CircleLayout</text></g>
<g id="n-CirclePackingLayout" class="node" transform="translate(852,785.1)"><circle r="4.5"/><text x="10">CirclePackingLayout</text></g>
<g id="n-DendrogramLayout" class="node" transform="translate(852,789.3)"><circle r="4.5"/><text x="10">DendrogramLayout</text></g>
<g id="n-ForceDirectedLayout" class="node" transform="translate(852,793.4)"><circle r="4.5"/><text x="10">ForceDirectedLayout</text></g>
<g id="n-IcicleTreeLayout" class="node" transform="translate(852,797.6)"><circle r="4.5"/><text x="10">IcicleTreeLayout</text></g>
<g id="n-IndentedTreeLayout" class="node" transform="translate(852,801.8)"><circle r="4.5"/><text x="10">IndentedTreeLayout</text></g>
<g id="n-Layout" class="node" transform="translate(852,805.9)"><circle r="4.5"/><text x="10">Layout</text></g>
<g id="n-NodeLinkTreeLayout" class="node" transform="translate(852,810.1)"><circle r="4.5"/><text x="10">NodeLinkTreeLayout</text></g>
<g id="n-PieLayout" class="node" transform="translate(852,814.2)"><circle r="4.5"/><text x="10">PieLayout</text></g>
<g id="n-RadialTreeLayout" class="node" transform="translate(852,818.4)"><circle r="4.5"/><text x="10">RadialTreeLayout</text></g>
<g id="n-RandomLayout" class="node" transform="translate(852,822.6)"><circle r="4.5"/><text x="10">RandomLayout</text></g>
<g id="n-StackedAreaLayout" class="node" transform="translate(852,826.7)"><circle r="4.5"/><text x="10">StackedAreaLayout</text></g>
<g id="n-TreeMapLayout" class="node" transform="translate(852,830.9)"><circle r="4.5"/><text x="10">TreeMapLayout</text></g>
</g>
</svg>
